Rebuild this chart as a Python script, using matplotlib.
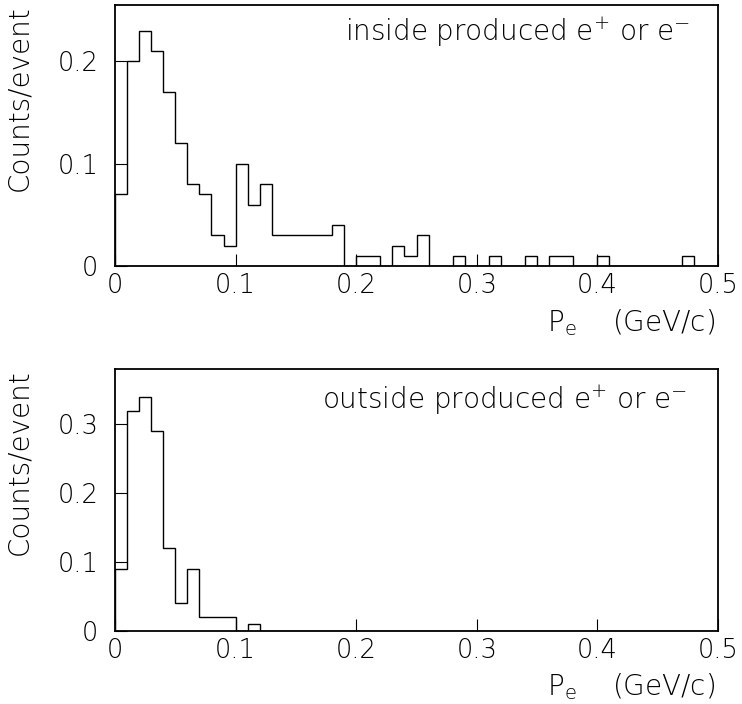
import matplotlib
matplotlib.use("Agg")
import matplotlib.pyplot as plt
import numpy as np

# bin contents, 50 bins of 0.01 GeV/c from 0 to 0.5
bin_width = 0.01
inside_counts = [
    0.07, 0.20, 0.23, 0.21, 0.17, 0.12, 0.08, 0.07, 0.03, 0.02,
    0.10, 0.06, 0.08, 0.03, 0.03, 0.03, 0.03, 0.03, 0.04, 0.00,
    0.01, 0.01, 0.00, 0.02, 0.01, 0.03, 0.00, 0.00, 0.01, 0.00,
    0.00, 0.01, 0.00, 0.00, 0.01, 0.00, 0.01, 0.01, 0.00, 0.00,
    0.01, 0.00, 0.00, 0.00, 0.00, 0.00, 0.00, 0.01, 0.00, 0.00,
]
outside_counts = [
    0.09, 0.32, 0.34, 0.29, 0.12, 0.04, 0.09, 0.02, 0.02, 0.02,
    0.00, 0.01, 0.00, 0.00, 0.00, 0.00, 0.00, 0.00, 0.00, 0.00,
    0.00, 0.00, 0.00, 0.00, 0.00, 0.00, 0.00, 0.00, 0.00, 0.00,
    0.00, 0.00, 0.00, 0.00, 0.00, 0.00, 0.00, 0.00, 0.00, 0.00,
    0.00, 0.00, 0.00, 0.00, 0.00, 0.00, 0.00, 0.00, 0.00, 0.00,
]
x_ticks = [0, 0.1, 0.2, 0.3, 0.4, 0.5]
x_tick_labels = ["0", "0.1", "0.2", "0.3", "0.4", "0.5"]
inside_y_ticks = [0, 0.1, 0.2]
outside_y_ticks = [0, 0.1, 0.2, 0.3]
inside_label = r"inside produced $\mathregular{e^{+}}$ or $\mathregular{e^{-}}$"
outside_label = r"outside produced $\mathregular{e^{+}}$ or $\mathregular{e^{-}}$"
x_title = r"$\mathregular{P_{e}}$    (GeV/c)"
y_title = "Counts/event"

plt.rcParams["font.family"] = ["DejaVu Sans"]
plt.rcParams["font.weight"] = "light"
plt.rcParams["mathtext.default"] = "regular"


def draw_panel(ax, counts, yticks, ymax, label, label_x, label_y):
    edges = np.arange(len(counts) + 1) * bin_width
    ax.stairs(counts, edges, color="black", linewidth=1.0)
    ax.set_xlim(0, 0.5)
    ax.set_ylim(0, ymax)
    ax.set_xticks(x_ticks)
    ax.set_xticklabels(x_tick_labels)
    ax.set_yticks(yticks)
    ax.set_yticklabels(["0" if t == 0 else f"{t:.1f}" for t in yticks])
    ax.tick_params(axis="both", direction="in", length=8.6, width=0.8,
                   labelsize=18.5)
    ax.tick_params(axis="x", pad=5)
    ax.tick_params(axis="y", pad=12)
    for spine in ax.spines.values():
        spine.set_linewidth(1.3)
    ax.text(label_x, label_y, label, transform=ax.transAxes, fontsize=20,
            ha="left", va="center")
    ax.text(0.995, -0.215, x_title, transform=ax.transAxes, fontsize=20,
            ha="right", va="center")
    ax.text(-0.158, 1.0, y_title, transform=ax.transAxes, fontsize=20,
            rotation=90, ha="center", va="top")


fig = plt.figure(figsize=(7.42, 7.04), dpi=100)
ax_top = fig.add_axes([0.155, 0.622, 0.8127, 0.3707])
ax_bot = fig.add_axes([0.155, 0.104, 0.8127, 0.3713])

draw_panel(ax_top, inside_counts, inside_y_ticks, 0.255, inside_label, 0.381, 0.897)
draw_panel(ax_bot, outside_counts, outside_y_ticks, 0.38, outside_label, 0.343, 0.883)

fig.savefig("out.png", dpi=100)
plt.close(fig)
